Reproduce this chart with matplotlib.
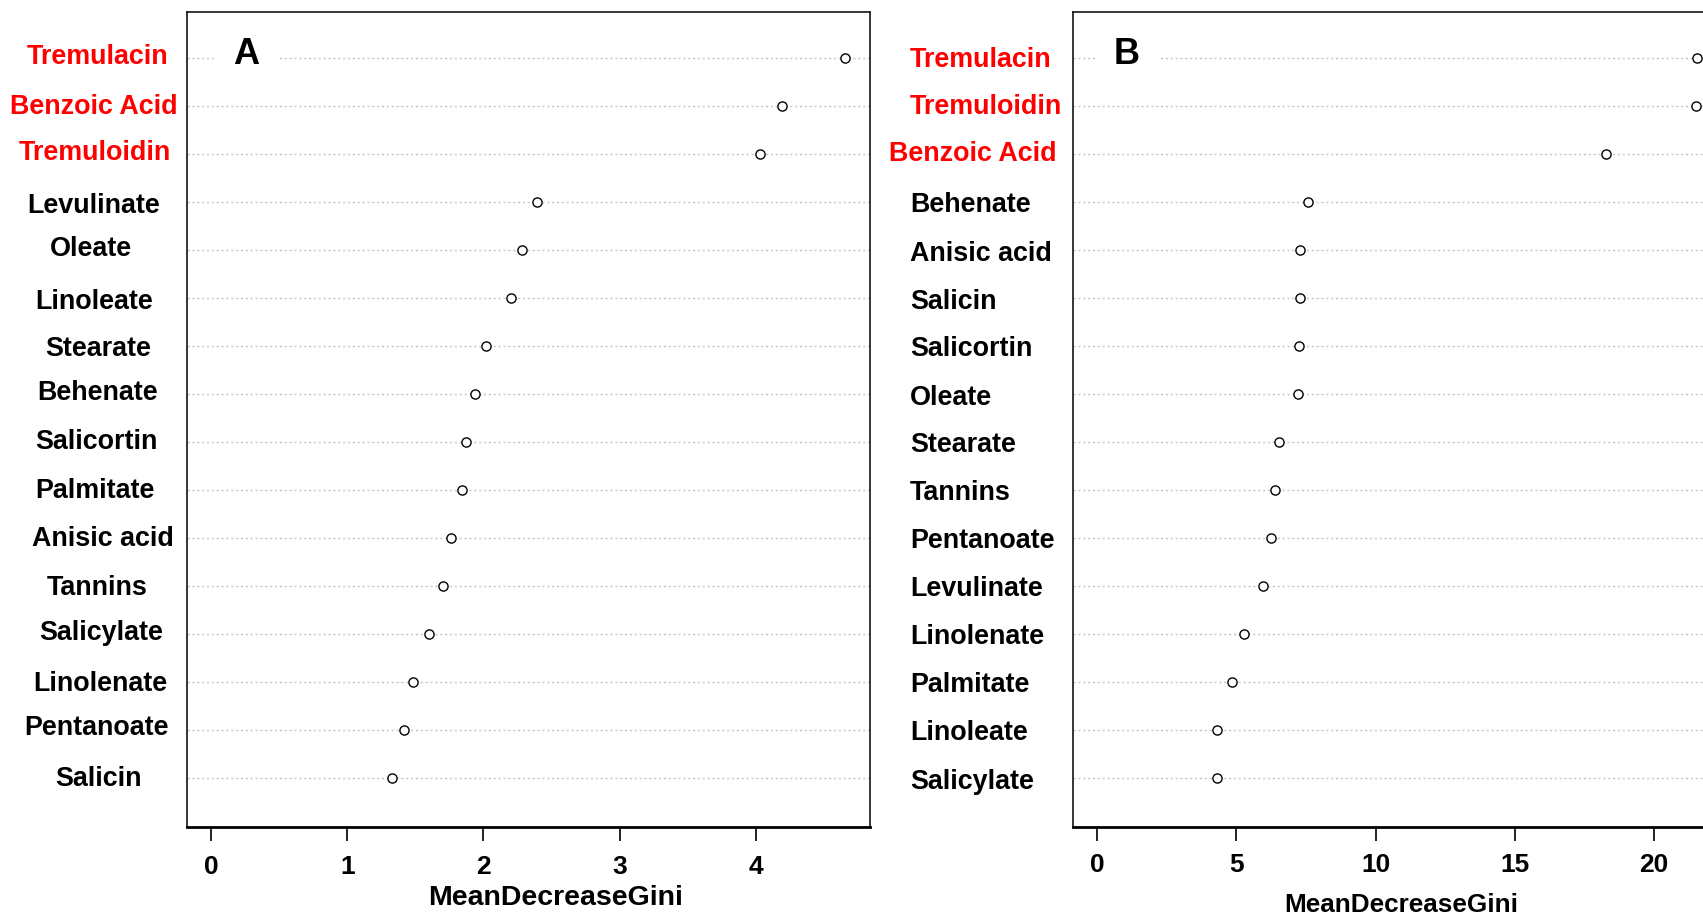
import matplotlib
matplotlib.use("Agg")
import matplotlib.pyplot as plt
from matplotlib.patches import Rectangle

plt.rcParams['font.family'] = ['Liberation Sans', 'DejaVu Sans']
plt.rcParams['font.weight'] = 'bold'

# Panel A: variable importance, ordered top to bottom
labels_a = ["Tremulacin", "Benzoic Acid", "Tremuloidin", "Levulinate", "Oleate",
            "Linoleate", "Stearate", "Behenate", "Salicortin", "Palmitate",
            "Anisic acid", "Tannins", "Salicylate", "Linolenate", "Pentanoate",
            "Salicin"]
gini_a = [4.65, 4.19, 4.03, 2.39, 2.28, 2.20, 2.02, 1.94, 1.87, 1.84,
          1.76, 1.70, 1.60, 1.48, 1.42, 1.33]
red_a = ["Tremulacin", "Benzoic Acid", "Tremuloidin"]
ticks_a = [0, 1, 2, 3, 4]

# Panel B
labels_b = ["Tremulacin", "Tremuloidin", "Benzoic Acid", "Behenate", "Anisic acid",
            "Salicin", "Salicortin", "Oleate", "Stearate", "Tannins",
            "Pentanoate", "Levulinate", "Linolenate", "Palmitate", "Linoleate",
            "Salicylate"]
gini_b = [21.55, 21.50, 18.28, 7.59, 7.28, 7.28, 7.24, 7.20, 6.54, 6.38,
          6.26, 5.95, 5.28, 4.85, 4.31, 4.31]
red_b = ["Tremulacin", "Tremuloidin", "Benzoic Acid"]
ticks_b = [0, 5, 10, 15, 20]

# hand placement of the panel A row labels (pixel centre x, vertical nudge)
label_cx_a = [98, 94, 95, 94, 91, 94, 98, 98, 96, 95, 103, 97, 101, 100, 97, 98]
label_dy_a = [-1, 1, -1, 4, -1, 4, 3, -1, 0, 1, 1, 2, -1, 2, -2, 1]
label_dy_b = [2, 1, 0, 3, 4, 4, 3, 4, 3, 3, 3, 3, 3, 3, 3, 4]

W, H = 1703, 915
fig = plt.figure(figsize=(W / 100, H / 100), dpi=100)


def fx(px):
    return px / W


def fy(py):
    return 1 - py / H


def panel(left_px, right_px, labels, values, ticks, xlim, letter,
          letter_x, gap, xlabel_pos, xlabel_size, tick_pad):
    top_px, bot_px = 12, 827
    ax = fig.add_axes([fx(left_px), fy(bot_px), fx(right_px - left_px),
                       (bot_px - top_px) / H])
    n = len(labels)
    ypos = [n - i for i in range(n)]
    for y in ypos:
        ax.axhline(y, color="#c4c4c4", lw=1.0, ls=(0, (1.5, 2.0)), zorder=1)
    ax.plot(values, ypos, ls="none", marker="o", ms=6.6, mfc="white",
            mec="black", mew=1.0, zorder=4)
    ax.set_xlim(*xlim)
    ax.set_ylim(-0.03, n + 0.95)
    ax.set_yticks([])
    ax.set_xticks(ticks)
    ax.set_xticklabels([str(t) for t in ticks], fontsize=19, fontweight="bold")
    ax.tick_params(axis="x", length=10, width=1.2, pad=tick_pad, direction="out")
    for s in ax.spines.values():
        s.set_linewidth(1.1)
    ax.spines["bottom"].set_linewidth(2.0)
    # white patch behind the panel letter
    ax.add_patch(Rectangle((gap[0], 0.925), gap[1] - gap[0], 0.05,
                           transform=ax.transAxes, facecolor="white",
                           edgecolor="none", zorder=2))
    ax.text(letter_x, 0.948, letter, transform=ax.transAxes, fontsize=26,
            fontweight="bold", ha="center", va="center", zorder=3)
    fig.text(fx(xlabel_pos[0]), fy(xlabel_pos[1]), "MeanDecreaseGini",
             fontsize=xlabel_size, fontweight="bold", ha="center", va="center")
    return ax, ypos


ax_a, ypos_a = panel(187, 870, labels_a, gini_a, ticks_a,
                     (-0.176, 4.837), "A", 0.0864, (0.0425, 0.136), (556, 898),
                     20.5, 10.5)
ax_b, ypos_b = panel(1073, 1721, labels_b, gini_b, ticks_b,
                     (-0.862, 22.40), "B", 0.082, (0.0355, 0.131), (1401, 905),
                     18.8, 9)

# Row labels for panel A: centred in the left margin
for lab, y, cx, dy in zip(labels_a, ypos_a, label_cx_a, label_dy_a):
    ypx = 825.6 - 48 * y + dy
    fig.text(fx(cx), fy(ypx), lab, fontsize=19.4, fontweight="bold",
             ha="center", va="center",
             color="#ff0000" if lab in red_a else "black")

# Row labels for panel B: left aligned
for lab, y, dy in zip(labels_b, ypos_b, label_dy_b):
    ypx = 825.6 - 48 * y + dy
    xpx = 889 if lab == "Benzoic Acid" else 910
    fig.text(fx(xpx), fy(ypx), lab, fontsize=19.4, fontweight="bold",
             ha="left", va="center",
             color="#ff0000" if lab in red_b else "black")

fig.savefig("out.png", dpi=100, facecolor="white")
